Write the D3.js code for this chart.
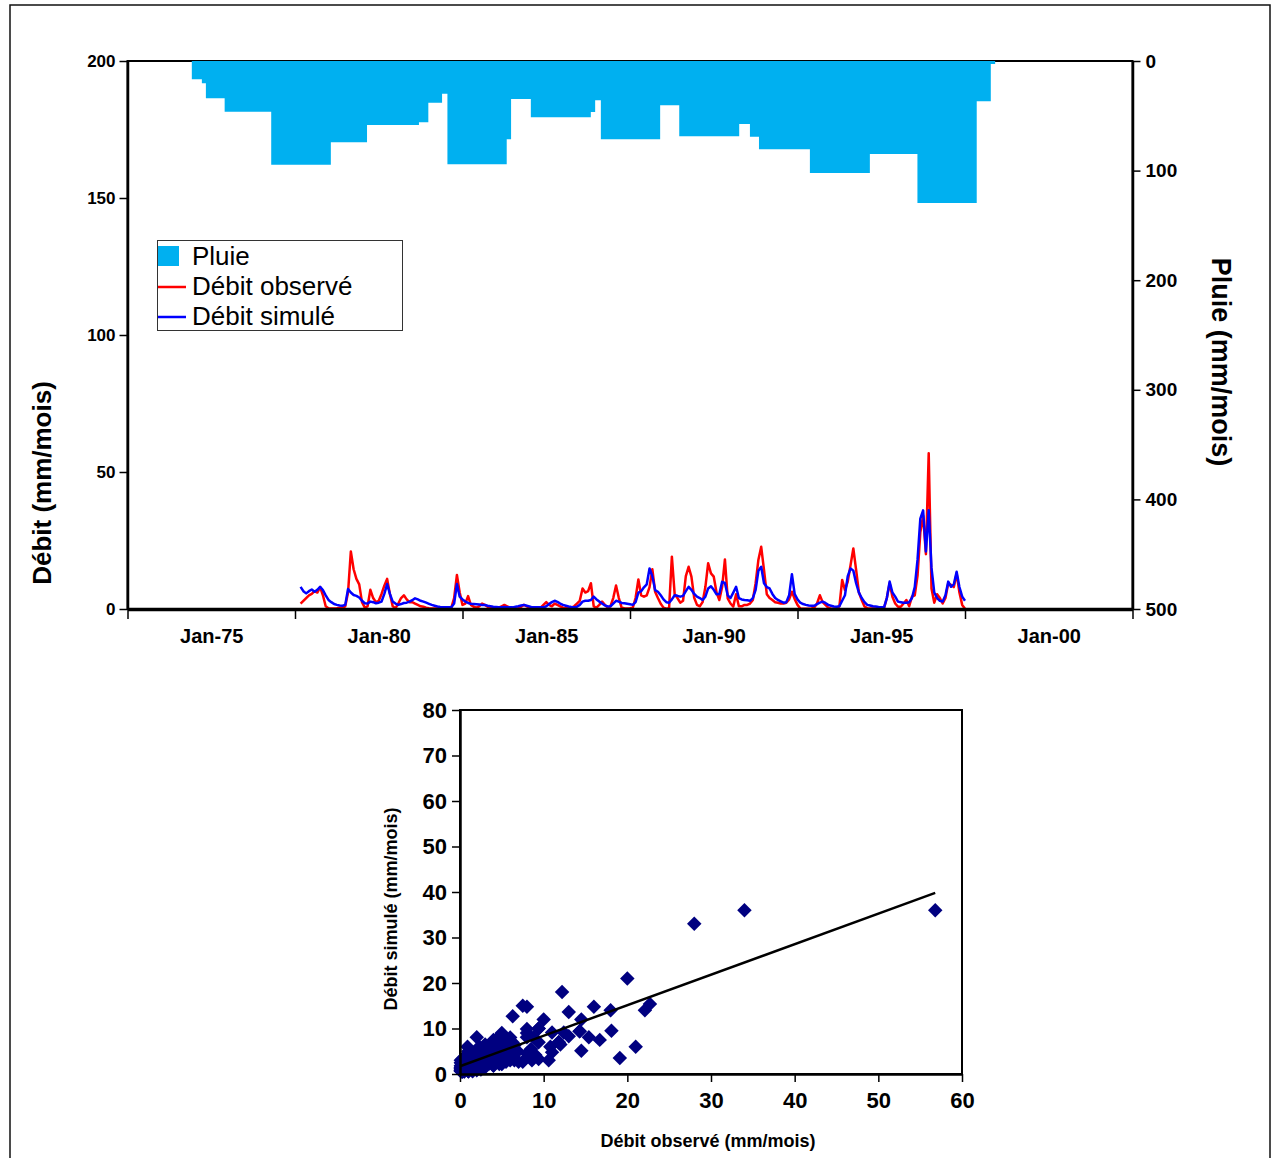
<!DOCTYPE html>
<html><head><meta charset="utf-8">
<script src="https://cdn.jsdelivr.net/npm/d3@7"></script>
<style>body{margin:0;background:#fff;} svg{display:block;}</style>
</head><body><svg id="c" width="1275" height="1158"></svg>
<script>
// ---------- DATA ----------
const flowStartYear = 1977 + 8/12;   // first monthly value: Sep 1977
const observed = [
 2.0,3.0,4.0,5.0,5.5,6.5,6.0,8.0,5.0,1.0,0.3,0.2,
 0.2,0.3,0.5,0.5,1.0,6.0,21.0,14.5,11.0,9.0,2.5,0.5,
 1.0,7.0,4.0,2.5,3.0,5.5,8.5,11.0,5.5,1.0,0.3,2.0,
 4.0,5.0,3.5,2.5,2.5,2.0,1.5,1.0,0.8,0.5,0.3,0.2,
 0.2,0.2,0.3,0.2,0.2,0.3,0.5,4.0,12.4,6.0,1.5,2.0,
 4.7,1.5,0.8,0.5,1.0,2.0,1.5,0.8,0.5,0.3,0.2,0.5,
 1.0,1.5,1.0,0.5,0.3,0.2,0.3,0.8,1.5,1.0,0.5,0.3,
 0.2,0.3,0.5,1.5,2.5,1.5,1.0,2.0,1.5,1.0,0.5,0.3,
 0.3,0.5,1.0,2.0,3.0,7.5,6.0,6.5,9.4,1.0,0.5,1.5,
 2.7,1.5,0.5,1.0,4.0,8.6,4.0,0.5,0.3,0.2,0.3,0.5,
 4.0,10.8,5.0,4.5,5.0,8.0,14.5,6.3,4.0,1.9,0.5,0.1,
 0.3,19.1,5.4,4.0,2.3,3.0,12.0,15.4,11.8,4.1,1.5,1.0,
 2.5,8.0,16.7,13.0,11.8,6.0,3.3,8.0,18.1,3.9,2.0,0.9,
 5.4,1.0,1.0,1.5,1.5,2.0,3.3,9.4,18.0,22.7,14.3,5.4,
 4.0,3.3,2.5,2.3,2.0,2.0,2.3,3.5,6.3,3.6,1.5,0.2,
 0.1,0.1,0.1,0.2,0.5,2.0,5.0,2.5,1.5,0.5,0.1,0.1,
 0.1,1.0,10.6,6.9,10.0,16.0,22.1,14.3,6.0,3.3,0.9,0.3,
 0.2,0.2,0.2,0.1,0.1,0.3,4.0,9.4,4.5,2.0,0.8,0.8,
 2.0,3.3,1.0,4.5,5.0,12.2,28.0,34.0,20.0,56.8,7.5,2.3,
 5.4,4.0,2.0,4.0,9.4,8.8,8.0,13.0,6.0,1.5,0.1
];
const simulated = [
 8.1,6.5,5.7,6.5,7.1,6.3,7.0,8.1,6.9,5.0,3.3,2.5,
 1.8,1.5,1.3,1.2,1.5,7.3,6.0,5.1,4.8,4.2,3.0,2.1,
 2.0,2.7,2.5,2.1,2.3,2.7,5.5,9.1,5.5,2.7,2.0,1.5,
 1.8,2.2,2.3,2.7,3.2,3.9,3.5,3.0,2.7,2.3,1.9,1.5,
 1.2,0.9,0.7,0.6,0.6,0.6,0.6,2.0,9.1,4.5,3.5,2.7,
 2.2,1.9,1.8,1.7,1.6,1.5,1.5,1.2,1.0,0.8,0.7,0.6,
 0.6,0.7,0.6,0.6,0.6,0.8,1.0,1.3,1.5,1.2,0.9,0.6,
 0.6,0.6,0.6,0.6,1.0,1.8,2.5,3.0,2.6,2.0,1.5,1.2,
 0.9,0.7,0.6,0.8,1.5,2.7,3.0,3.0,3.3,4.5,3.5,2.7,
 2.0,1.3,0.9,1.0,2.0,3.0,2.7,2.2,2.1,1.9,1.7,1.5,
 2.5,6.0,6.5,7.9,9.0,14.8,12.0,6.9,6.3,5.0,3.5,2.5,
 2.3,3.5,5.0,4.8,4.5,4.8,6.5,8.1,7.0,5.5,4.5,4.0,
 3.3,4.5,7.5,8.3,7.0,5.4,5.5,9.9,9.5,5.0,4.0,6.0,
 8.1,4.0,3.5,3.3,3.2,3.0,4.0,7.0,14.0,15.4,9.4,8.0,
 7.5,5.5,4.0,3.3,2.8,2.3,2.5,5.0,12.7,5.4,3.5,2.3,
 1.8,1.5,1.3,1.2,1.2,1.8,2.3,2.7,2.2,1.5,1.2,0.9,
 0.8,1.0,3.0,5.0,12.0,14.8,14.0,9.4,6.0,4.0,2.5,1.5,
 1.3,1.0,0.9,0.7,0.6,0.6,4.0,10.0,6.0,4.5,2.7,2.5,
 2.3,2.3,2.5,4.0,8.0,18.0,33.0,36.0,21.0,36.0,15.0,6.0,
 4.0,3.0,2.7,5.0,10.0,8.1,9.0,13.6,8.0,4.5,3.0
];
// rainfall steps: start (decimal year) and value (mm/mois)
const rainStart = [1974.42,1974.72,1974.84,1975.40,1976.79,1978.57,1979.65,1981.20,1981.48,1981.89,
 1982.05,1983.82,1983.95,1984.54,1986.33,1986.46,1986.63,1988.40,1988.97,1990.76,
 1991.08,1991.35,1992.87,1994.66,1996.08,1997.85,1998.27];
const rainValues = [16.7,20.3,34.0,46.3,94.6,74.2,58.4,55.9,38.0,29.8,
 94.3,71.4,34.7,51.4,46.5,35.9,71.4,40.4,68.7,57.5,
 69.1,80.6,102.2,84.9,129.6,36.8,2.7];
const rainEnd = 1998.40;
const xTickMarks = [1972.5,1977.5,1982.5,1987.5,1992.5,1997.5,2002.5];
const xTickLabels = [1975,1980,1985,1990,1995,2000];
const flowTicks = [0,50,100,150,200];
const rainTicks = [0,100,200,300,400,500];
const scatterXTicks = [0,10,20,30,40,50,60];
const scatterYTicks = [0,10,20,30,40,50,60,70,80];
const trendIntercept = 1.7, trendSlope = 0.671, trendXmax = 56.8;
const legendItems = ["Pluie","Débit observé","Débit simulé"];

// ---------- DRAW ----------
const FONT = "'Liberation Sans', Arial, Helvetica, sans-serif";
const svg = d3.select("#c").attr("font-family", FONT);

svg.append("rect").attr("x",10).attr("y",5).attr("width",1260).attr("height",1200)
  .attr("fill","none").attr("stroke","#111").attr("stroke-width",1.5);

const X0=127.5, X1=1132.5, Y0=61, Y1=609;
const x = d3.scaleLinear().domain([1972.5, 2002.5]).range([X0, X1]);
const yF = d3.scaleLinear().domain([0,200]).range([Y1, Y0]);
const yR = d3.scaleLinear().domain([0,500]).range([Y0, Y1]);

svg.append("rect").attr("x",X0).attr("y",Y0).attr("width",X1-X0).attr("height",Y1-Y0)
  .attr("fill","none").attr("stroke","#000").attr("stroke-width",2);

const rainPts = rainStart.map((t,i)=>({t, v: rainValues[i]}))
  .concat([{t: rainEnd, v: rainValues[rainValues.length-1]}]);
svg.append("path").datum(rainPts)
  .attr("d", d3.area().curve(d3.curveStepAfter).x(d=>x(d.t)).y0(yR(0)).y1(d=>yR(d.v)))
  .attr("fill","#00B0F0");

const flowLine = d3.line().x((d,i)=>x(flowStartYear + i/12)).y(d=>yF(d));
svg.append("path").datum(observed).attr("d", flowLine).attr("fill","none")
  .attr("stroke","#FF0000").attr("stroke-width",2.5).attr("stroke-linejoin","round");
svg.append("path").datum(simulated).attr("d", flowLine).attr("fill","none")
  .attr("stroke","#0000FF").attr("stroke-width",2.5).attr("stroke-linejoin","round");

// left axis
const gL = svg.append("g").attr("transform",`translate(${X0},0)`)
  .call(d3.axisLeft(yF).tickValues(flowTicks).tickSize(8).tickPadding(4).tickSizeOuter(0));
gL.attr("font-family", FONT).attr("font-size", 17).attr("font-weight","bold");
gL.select(".domain").attr("stroke-width",2.5);
gL.selectAll(".tick line").attr("stroke-width",1.5);

// right axis
const gR = svg.append("g").attr("transform",`translate(${X1},0)`)
  .call(d3.axisRight(yR).tickValues(rainTicks).tickSize(8).tickPadding(5).tickSizeOuter(0));
gR.attr("font-family", FONT).attr("font-size", 19).attr("font-weight","bold");
gR.select(".domain").attr("stroke-width",2.5);
gR.selectAll(".tick line").attr("stroke-width",1.5);

// bottom axis: tick marks
const gB = svg.append("g").attr("transform",`translate(0,${Y1})`)
  .call(d3.axisBottom(x).tickValues(xTickMarks).tickFormat("").tickSize(10).tickSizeOuter(0));
gB.select(".domain").attr("stroke-width",3.5);
gB.selectAll(".tick line").attr("stroke-width",1.5);
// bottom axis: labels
const gBL = svg.append("g").attr("transform",`translate(0,${Y1})`)
  .call(d3.axisBottom(x).tickValues(xTickLabels).tickFormat(d=>"Jan-"+String(d).slice(2)).tickSize(0).tickPadding(20));
gBL.select(".domain").remove();
gBL.attr("font-family", FONT).attr("font-size", 20).attr("font-weight","bold");

// titles
svg.append("text").attr("transform","translate(51,483) rotate(-90)").attr("text-anchor","middle")
  .attr("font-size",26).attr("font-weight","bold").text("Débit (mm/mois)");
svg.append("text").attr("transform","translate(1212,362) rotate(90)").attr("text-anchor","middle")
  .attr("font-size",27).attr("font-weight","bold").text("Pluie (mm/mois)");

// legend
const lg = svg.append("g");
lg.append("rect").attr("x",157.5).attr("y",240.5).attr("width",245).attr("height",90)
  .attr("fill","#fff").attr("stroke","#333").attr("stroke-width",1);
lg.append("rect").attr("x",158).attr("y",246).attr("width",21).attr("height",20).attr("fill","#00B0F0");
lg.append("line").attr("x1",158).attr("x2",186).attr("y1",287).attr("y2",287).attr("stroke","#FF0000").attr("stroke-width",2.5);
lg.append("line").attr("x1",158).attr("x2",186).attr("y1",317).attr("y2",317).attr("stroke","#0000FF").attr("stroke-width",2.5);
const lgY = [265, 295, 325];
legendItems.forEach((t,i)=>{
  lg.append("text").attr("x",192).attr("y",lgY[i]).attr("font-size",26).attr("fill","#000").text(t);
});

// ---------- SCATTER ----------
const SX0=460, SX1=962, SY0=710, SY1=1074;
const sx = d3.scaleLinear().domain([0,60]).range([SX0,SX1]);
const sy = d3.scaleLinear().domain([0,80]).range([SY1,SY0]);

svg.append("rect").attr("x",SX0).attr("y",SY0).attr("width",SX1-SX0).attr("height",SY1-SY0)
  .attr("fill","none").attr("stroke","#000").attr("stroke-width",2);

const pts = observed.map((o,i)=>[o, simulated[i]]);
const sym = d3.symbol(d3.symbolSquare, 105);
svg.append("g").selectAll("path").data(pts).join("path")
  .attr("d", sym)
  .attr("transform", d=>`translate(${sx(d[0])},${sy(d[1])}) rotate(45)`)
  .attr("fill","#000080");

svg.append("line").attr("x1",sx(0)).attr("y1",sy(trendIntercept))
  .attr("x2",sx(trendXmax)).attr("y2",sy(trendIntercept + trendSlope*trendXmax))
  .attr("stroke","#000").attr("stroke-width",2.5);

const sL = svg.append("g").attr("transform",`translate(${SX0},0)`)
  .call(d3.axisLeft(sy).tickValues(scatterYTicks).tickSize(8).tickPadding(5).tickSizeOuter(0));
sL.attr("font-family", FONT).attr("font-size", 22).attr("font-weight","bold");
sL.select(".domain").attr("stroke-width",2.5);
sL.selectAll(".tick line").attr("stroke-width",1.5);

const sB = svg.append("g").attr("transform",`translate(0,${SY1})`)
  .call(d3.axisBottom(sx).tickValues(scatterXTicks).tickSize(8).tickPadding(10).tickSizeOuter(0));
sB.attr("font-family", FONT).attr("font-size", 22).attr("font-weight","bold");
sB.select(".domain").attr("stroke-width",2.5);
sB.selectAll(".tick line").attr("stroke-width",1.5);

svg.append("text").attr("x",708).attr("y",1147).attr("text-anchor","middle")
  .attr("font-size",18).attr("font-weight","bold").text("Débit observé (mm/mois)");
svg.append("text").attr("transform","translate(397,909) rotate(-90)").attr("text-anchor","middle")
  .attr("font-size",18).attr("font-weight","bold").text("Débit simulé (mm/mois)");
</script></body></html>
